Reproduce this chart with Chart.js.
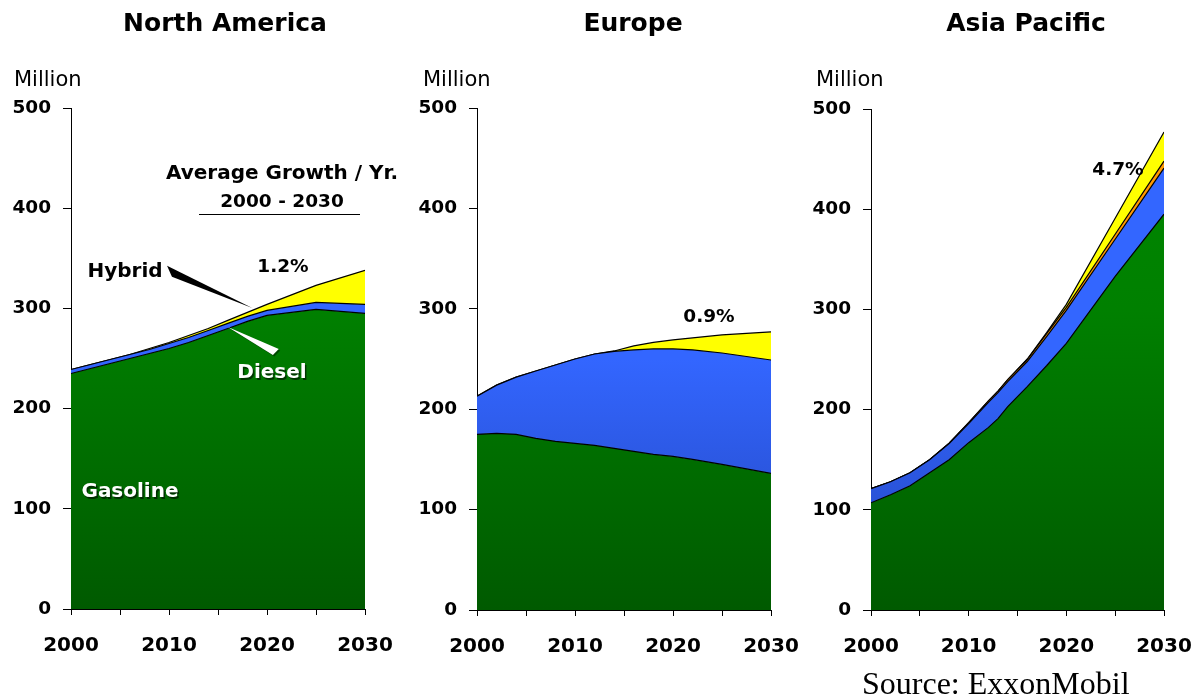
<!DOCTYPE html>
<html>
<head>
<meta charset="utf-8">
<script src="https://cdn.jsdelivr.net/npm/chart.js@4.4.0/dist/chart.umd.min.js"></script>
<style>
  body { margin: 0; width: 1204px; height: 697px; background: #fff; position: relative; overflow: hidden; font-family: "DejaVu Sans", sans-serif; }
  canvas { position: absolute; top: 0; }
  .lbl { position: absolute; transform: translate(-50%, -50%); white-space: nowrap; font-weight: bold; color: #000; }
  .title { font-size: 25px; }
  .unit { position: absolute; font-size: 21px; transform: translateY(-50%); white-space: nowrap; }
  .note { font-size: 18.5px; }
  .big { font-size: 20px; }
  .white { color: #fff; font-size: 20px; text-shadow: 1.5px 1.5px 0 rgba(0,0,0,0.55); }
  .source { position: absolute; font-family: "Liberation Serif", serif; font-size: 32px; white-space: nowrap; transform: translateY(-50%); }
</style>
</head>
<body>
<canvas id="naChart" width="400" height="697" style="left:0px"></canvas>
<canvas id="euChart" width="400" height="697" style="left:400px"></canvas>
<canvas id="apChart" width="404" height="697" style="left:800px"></canvas>

<div class="lbl title" style="left:225px; top:22px">North America</div>
<div class="lbl title" style="left:633px; top:22px">Europe</div>
<div class="lbl title" style="left:1026px; top:22px">Asia Pacific</div>

<div class="unit" style="left:14px; top:79px">Million</div>
<div class="unit" style="left:423px; top:79px">Million</div>
<div class="unit" style="left:816px; top:79px">Million</div>

<div class="lbl big" style="left:282px; top:172px">Average Growth / Yr.</div>
<div class="lbl note" style="left:282px; top:200px">2000 - 2030</div>
<div style="position:absolute; left:199px; top:214px; width:161px; height:1px; background:#000"></div>
<div class="lbl note" style="left:283px; top:265px">1.2%</div>
<div class="lbl big" style="left:125px; top:270px">Hybrid</div>
<div class="lbl white" style="left:272px; top:371px">Diesel</div>
<div class="lbl white" style="left:130px; top:490px">Gasoline</div>
<div class="lbl note" style="left:709px; top:315px">0.9%</div>
<div class="lbl note" style="left:1118px; top:168px">4.7%</div>

<div class="source" style="left:862px; top:683px">Source: ExxonMobil</div>

<script>
// North America (million vehicles)
const naYears    = [2000, 2002, 2004, 2006, 2008, 2010, 2012, 2014, 2016, 2018, 2020, 2025, 2030];
const naGasoline = [235, 240, 245, 250, 255, 260, 266, 273, 280, 287, 293, 299, 295];
const naDiesel   = [4, 4, 4, 4, 4, 5, 5, 5, 5, 5, 5, 7, 9];
const naHybrid   = [0, 0, 0, 0, 1, 1, 2, 2, 3, 4, 6, 17, 34];

// Europe
const euYears    = [2000, 2002, 2004, 2006, 2008, 2010, 2012, 2014, 2016, 2018, 2020, 2022, 2025, 2030];
const euGasoline = [175, 176, 175, 171, 168, 166, 164, 161, 158, 155, 153, 150, 145, 136];
const euDiesel   = [38, 48, 57, 67, 76, 84, 91, 96.5, 101, 105, 107, 109, 111, 113];
const euHybrid   = [0, 0, 0, 0, 0, 0, 0, 0.5, 4, 6.5, 9, 12, 18, 28];

// Asia Pacific
const apYears    = [2000, 2002, 2004, 2006, 2008, 2010, 2012, 2013, 2014, 2016, 2018, 2020, 2025, 2030];
const apGasoline = [107, 115, 124, 137, 150, 167, 182, 191, 203, 223, 244, 266, 333, 395];
const apDiesel   = [14, 13, 13, 13, 16, 19, 25, 26, 25, 25, 29, 33, 37, 46];
const apOther    = [0, 0, 0, 0, 0.5, 1, 1.5, 1.5, 2, 2, 3, 3, 5, 7];
const apHybrid   = [0, 0, 0, 0, 0, 0, 0, 0, 0, 0.5, 1, 3, 16, 29];

const yTicks = [0, 100, 200, 300, 400, 500];
const xLabelYears = [2000, 2010, 2020, 2030];

// callout wedges in data units (year, million)
const hybridPointer = [[2009.8, 342.5], [2010.3, 331.5], [2018.5, 300.5]];
const dieselPointer = [[2016.0, 281.5], [2021.2, 259.5], [2020.6, 253.5]];

function vertGradient(stops) {
    return function(context) {
        let chart = context.chart;
        let area = chart.chartArea;
        if (!area) return stops[0][1];
        let g = chart.ctx.createLinearGradient(0, area.top, 0, area.bottom);
        stops.forEach(function(s) { g.addColorStop(s[0], s[1]); });
        return g;
    };
}

const greenFill  = vertGradient([[0, '#008800'], [0.4, '#008000'], [1, '#005a00']]);
const blueFill   = vertGradient([[0, '#3366ff'], [0.5, '#3366ff'], [1, '#2244bb']]);
const yellowFill = '#ffff00';
const orangeFill = '#ff9900';

function toPoints(years, values) {
    return years.map(function(y, i) { return { x: y, y: values[i] }; });
}

function layer(label, years, values, fill, first) {
    return {
        label: label,
        data: toPoints(years, values),
        backgroundColor: fill,
        borderColor: '#000',
        borderWidth: 1.2,
        pointRadius: 0,
        tension: 0,
        fill: first ? 'origin' : '-1'
    };
}

function makeChart(id, datasets, box, extraPlugins) {
    let ctx = document.getElementById(id).getContext('2d');
    return new Chart(ctx, {
        type: 'line',
        data: { datasets: datasets },
        options: {
            responsive: false,
            animation: false,
            devicePixelRatio: 1,
            layout: { padding: { top: box.top, right: box.right, left: 0, bottom: 0 } },
            plugins: { legend: { display: false }, tooltip: { enabled: false }, title: { display: false } },
            scales: {
                x: {
                    type: 'linear',
                    min: 2000,
                    max: 2030,
                    grid: { display: true, drawOnChartArea: false, drawTicks: true, tickLength: 6, color: '#000' },
                    border: { display: true, color: '#000', width: 1 },
                    ticks: {
                        stepSize: 5,
                        padding: 19,
                        maxRotation: 0,
                        autoSkip: false,
                        color: '#000',
                        font: { family: 'DejaVu Sans', weight: 'bold', size: 20 },
                        callback: function(v) { return xLabelYears.indexOf(v) >= 0 ? String(v) : ''; }
                    },
                    afterFit: function(scale) {
                        scale.height = box.xh;
                        scale.paddingLeft = 0;
                        scale.paddingRight = 0;
                    }
                },
                y: {
                    stacked: true,
                    min: 0,
                    max: 500,
                    grid: { display: true, drawOnChartArea: false, drawTicks: true, tickLength: 8, color: '#000' },
                    border: { display: true, color: '#000', width: 1 },
                    afterBuildTicks: function(scale) {
                        scale.ticks = yTicks.map(function(v) { return { value: v }; });
                    },
                    ticks: {
                        padding: box.yp,
                        color: '#000',
                        font: { family: 'DejaVu Sans', weight: 'bold', size: 18.5 }
                    },
                    afterFit: function(scale) {
                        scale.width = box.yw;
                        scale.paddingTop = 0;
                        scale.paddingBottom = 0;
                    }
                }
            }
        },
        plugins: extraPlugins || []
    });
}

function drawWedge(chart, pts, fill, shadow) {
    let xs = chart.scales.x, ys = chart.scales.y, c = chart.ctx;
    let px = pts.map(function(p) { return [xs.getPixelForValue(p[0]), ys.getPixelForValue(p[1])]; });
    c.save();
    if (shadow) {
        c.fillStyle = shadow;
        c.beginPath();
        px.forEach(function(p, i) { if (i === 0) c.moveTo(p[0] + 1.5, p[1] + 1.5); else c.lineTo(p[0] + 1.5, p[1] + 1.5); });
        c.closePath();
        c.fill();
    }
    c.fillStyle = fill;
    c.beginPath();
    px.forEach(function(p, i) { if (i === 0) c.moveTo(p[0], p[1]); else c.lineTo(p[0], p[1]); });
    c.closePath();
    c.fill();
    c.restore();
}

const calloutPlugin = {
    id: 'callouts',
    afterDatasetsDraw: function(chart) {
        drawWedge(chart, hybridPointer, '#000', null);
        drawWedge(chart, dieselPointer, '#fff', 'rgba(0,0,0,0.4)');
    }
};

makeChart('naChart', [
    layer('Gasoline', naYears, naGasoline, greenFill, true),
    layer('Diesel', naYears, naDiesel, blueFill, false),
    layer('Hybrid', naYears, naHybrid, yellowFill, false)
], { top: 108, right: 35, yw: 71, yp: 12, xh: 88 }, [calloutPlugin]);

makeChart('euChart', [
    layer('Gasoline', euYears, euGasoline, greenFill, true),
    layer('Diesel', euYears, euDiesel, blueFill, false),
    layer('Hybrid', euYears, euHybrid, yellowFill, false)
], { top: 108, right: 29, yw: 77, yp: 12, xh: 87 });

makeChart('apChart', [
    layer('Gasoline', apYears, apGasoline, greenFill, true),
    layer('Diesel', apYears, apDiesel, blueFill, false),
    layer('Other', apYears, apOther, orangeFill, false),
    layer('Hybrid', apYears, apHybrid, yellowFill, false)
], { top: 109, right: 40, yw: 71, yp: 12, xh: 87 });
</script>
</body>
</html>
